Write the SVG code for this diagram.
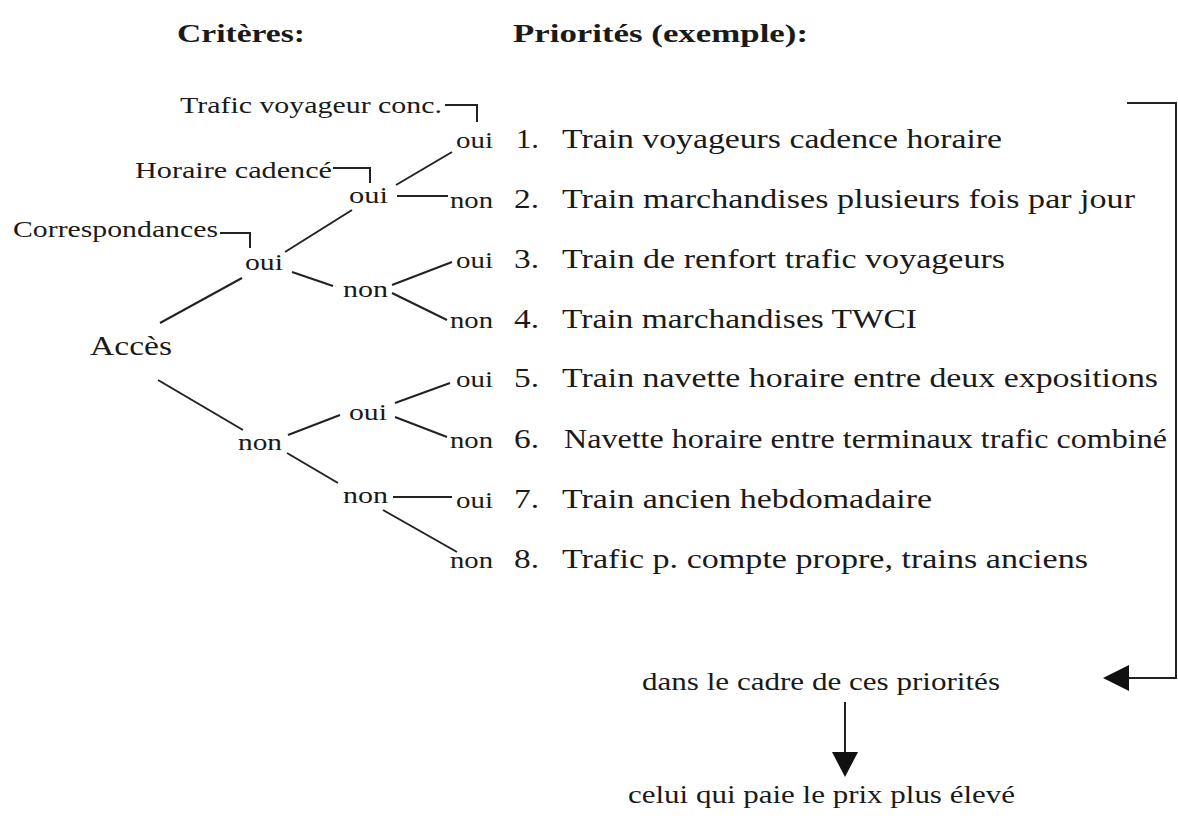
<svg xmlns="http://www.w3.org/2000/svg" width="1178" height="818" viewBox="0 0 1178 818">
<style>
.t text{fill:#1a1a1a}
.h{font-weight:bold;font-size:26px}
.c{font-size:23px}
.it{font-size:27px}
.yn{font-size:23px}
.b{font-size:25px}
.ln{fill:none;stroke:#222;stroke-width:2}
.ah{fill:#111;stroke:none}
</style>
<rect width="1178" height="818" fill="#fff"/>
<g class="t" font-family="Liberation Serif, Times New Roman, Tinos, serif">
<g id="headers">
<text class="h" x="177" y="42" textLength="128" lengthAdjust="spacingAndGlyphs">Critères:</text>
<text class="h" x="513" y="42" textLength="295" lengthAdjust="spacingAndGlyphs">Priorités (exemple):</text>
</g>
<g id="criteria">
<text class="c" x="180" y="113" textLength="262" lengthAdjust="spacingAndGlyphs">Trafic voyageur conc.</text>
<text class="c" x="135" y="178" textLength="197" lengthAdjust="spacingAndGlyphs">Horaire cadencé</text>
<text class="c" x="13" y="237" textLength="205" lengthAdjust="spacingAndGlyphs">Correspondances</text>
</g>
<g id="node-acces"><text class="it" x="90" y="355" textLength="82" lengthAdjust="spacingAndGlyphs">Accès</text></g>
<g id="node-corr-oui"><text class="yn" x="245" y="270" textLength="38" lengthAdjust="spacingAndGlyphs">oui</text></g>
<g id="node-hor-oui"><text class="yn" x="349" y="203" textLength="39" lengthAdjust="spacingAndGlyphs">oui</text></g>
<g id="node-hor-non"><text class="yn" x="343" y="297" textLength="45" lengthAdjust="spacingAndGlyphs">non</text></g>
<g id="node-acces-non"><text class="yn" x="238" y="450" textLength="44" lengthAdjust="spacingAndGlyphs">non</text></g>
<g id="node-b-oui"><text class="yn" x="349" y="420" textLength="38" lengthAdjust="spacingAndGlyphs">oui</text></g>
<g id="node-b-non"><text class="yn" x="343" y="503" textLength="45" lengthAdjust="spacingAndGlyphs">non</text></g>
<g id="leaves">
<text class="yn" x="456" y="148" textLength="37" lengthAdjust="spacingAndGlyphs">oui</text>
<text class="yn" x="450" y="208" textLength="43" lengthAdjust="spacingAndGlyphs">non</text>
<text class="yn" x="456" y="268" textLength="37" lengthAdjust="spacingAndGlyphs">oui</text>
<text class="yn" x="450" y="328" textLength="43" lengthAdjust="spacingAndGlyphs">non</text>
<text class="yn" x="456" y="387" textLength="37" lengthAdjust="spacingAndGlyphs">oui</text>
<text class="yn" x="450" y="448" textLength="43" lengthAdjust="spacingAndGlyphs">non</text>
<text class="yn" x="456" y="508" textLength="37" lengthAdjust="spacingAndGlyphs">oui</text>
<text class="yn" x="450" y="568" textLength="43" lengthAdjust="spacingAndGlyphs">non</text>
</g>
<g id="priorities">
<text class="it" x="516" y="148" textLength="23" lengthAdjust="spacingAndGlyphs">1.</text>
<text class="it" x="562" y="148" textLength="440" lengthAdjust="spacingAndGlyphs">Train voyageurs cadence horaire</text>
<text class="it" x="514" y="208" textLength="25" lengthAdjust="spacingAndGlyphs">2.</text>
<text class="it" x="562" y="208" textLength="573" lengthAdjust="spacingAndGlyphs">Train marchandises plusieurs fois par jour</text>
<text class="it" x="514" y="268" textLength="25" lengthAdjust="spacingAndGlyphs">3.</text>
<text class="it" x="562" y="268" textLength="443" lengthAdjust="spacingAndGlyphs">Train de renfort trafic voyageurs</text>
<text class="it" x="514" y="328" textLength="25" lengthAdjust="spacingAndGlyphs">4.</text>
<text class="it" x="562" y="328" textLength="355" lengthAdjust="spacingAndGlyphs">Train marchandises TWCI</text>
<text class="it" x="514" y="387" textLength="25" lengthAdjust="spacingAndGlyphs">5.</text>
<text class="it" x="562" y="387" textLength="596" lengthAdjust="spacingAndGlyphs">Train navette horaire entre deux expositions</text>
<text class="it" x="514" y="448" textLength="25" lengthAdjust="spacingAndGlyphs">6.</text>
<text class="it" x="564" y="448" textLength="603" lengthAdjust="spacingAndGlyphs">Navette horaire entre terminaux trafic combiné</text>
<text class="it" x="514" y="508" textLength="25" lengthAdjust="spacingAndGlyphs">7.</text>
<text class="it" x="562" y="508" textLength="370" lengthAdjust="spacingAndGlyphs">Train ancien hebdomadaire</text>
<text class="it" x="514" y="568" textLength="25" lengthAdjust="spacingAndGlyphs">8.</text>
<text class="it" x="562" y="568" textLength="526" lengthAdjust="spacingAndGlyphs">Trafic p. compte propre, trains anciens</text>
</g>
<g id="node-cadre"><text class="b" x="642" y="690" textLength="358" lengthAdjust="spacingAndGlyphs">dans le cadre de ces priorités</text></g>
<g id="node-prix"><text class="b" x="628" y="803" textLength="387" lengthAdjust="spacingAndGlyphs">celui qui paie le prix plus élevé</text></g>
</g>
<g id="connectors">
<path class="ln" d="M445,105H477V122"/>
<path class="ln" d="M333,168H370V183"/>
<path class="ln" d="M220,233H250V248"/>
<path class="ln" d="M160,323L242,278"/>
<path class="ln" d="M285,252L352,210"/>
<path class="ln" d="M292,272L333,286"/>
<path class="ln" d="M396,185L452,152"/>
<path class="ln" d="M397,196H448"/>
<path class="ln" d="M392,285L452,262"/>
<path class="ln" d="M392,293L447,320"/>
<path class="ln" d="M158,380L243,430"/>
<path class="ln" d="M288,435L340,415"/>
<path class="ln" d="M395,403L450,383"/>
<path class="ln" d="M395,417L447,437"/>
<path class="ln" d="M287,453L338,483"/>
<path class="ln" d="M393,497H452"/>
<path class="ln" d="M383,510L457,552"/>
<path class="ln" d="M1127,103H1176V678H1126"/>
<polygon class="ah" points="1103,678 1129,665 1129,691"/>
<path class="ln" d="M845,702V754"/>
<polygon class="ah" points="832,752 858,752 845,777"/>
</g>
</svg>
